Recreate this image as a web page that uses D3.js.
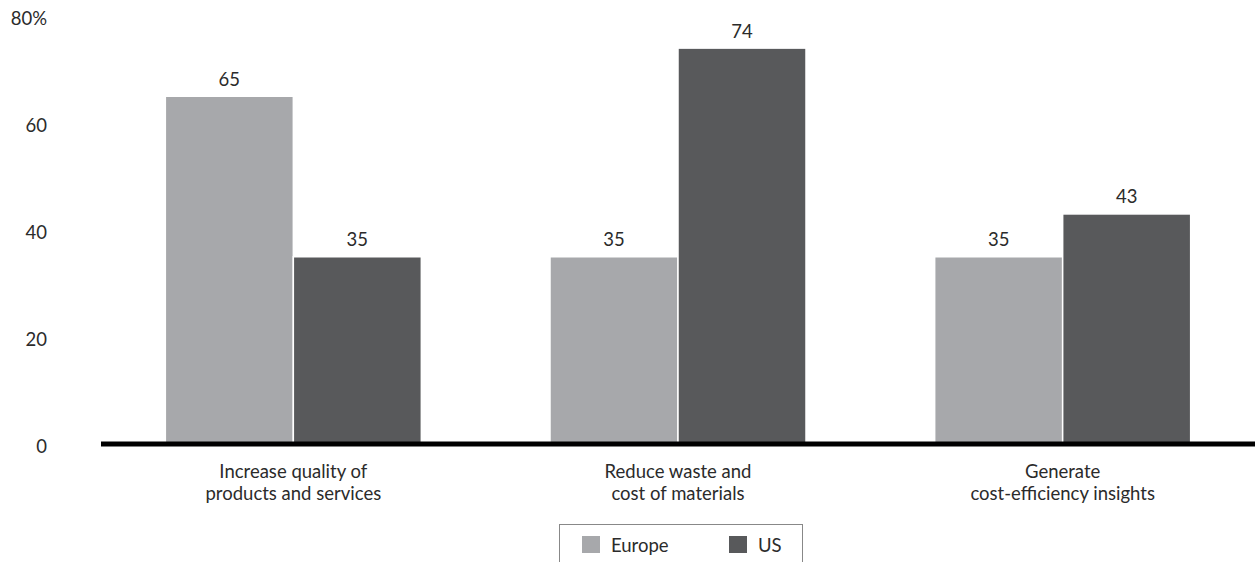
<!DOCTYPE html>
<html>
<head>
<meta charset="utf-8">
<script src="https://cdn.jsdelivr.net/npm/d3@7"></script>
<style>
  body { margin: 0; background: #fff; }
  text { font-family: Lato, "Noto Sans", sans-serif; fill: #2b2b2b; }
</style>
</head>
<body>
<div id="chart"></div>
<script>
// donnees
var categories = [
    ["Increase quality of", "products and services"],
    ["Reduce waste and", "cost of materials"],
    ["Generate", "cost-efficiency insights"]
];
var series = ["Europe", "US"];
var europe = [65, 35, 35];
var us = [35, 74, 43];
var yTicks = [0, 20, 40, 60, 80];
var colors = ["#a7a8ab", "#58595b"];

var width = 1255,
    height = 562,
    fontSize = 18.5;

var svg = d3.select("#chart").append("svg")
    .attr("width", width)
    .attr("height", height);

// echelles
var x0 = d3.scaleBand()
    .domain(d3.range(categories.length))
    .range([101, 1255])
    .padding(0);

var x1 = d3.scaleBand()
    .domain(series)
    .range([0, 256])
    .padding(0);

var y = d3.scaleLinear()
    .domain([0, 80])
    .range([444, 16]);

// axe y (texte seulement)
svg.selectAll(".ytick")
    .data(yTicks)
    .enter()
    .append("text")
    .attr("class", "ytick")
    .attr("x", 47)
    .attr("y", function(d) { return y(d) + 3; })
    .attr("dy", "0.35em")
    .attr("text-anchor", "end")
    .attr("font-size", fontSize)
    .text(function(d, i) { return i === yTicks.length - 1 ? d + "%" : d; });

// barres
var groups = svg.selectAll(".group")
    .data(categories)
    .enter()
    .append("g")
    .attr("class", "group")
    .attr("transform", function(d, i) {
        return "translate(" + (x0(i) + x0.bandwidth() / 2 - 128) + ",0)";
    });

groups.selectAll("rect")
    .data(function(d, i) {
        return [{ s: "Europe", v: europe[i] }, { s: "US", v: us[i] }];
    })
    .enter()
    .append("rect")
    .attr("x", function(d) { return x1(d.s); })
    .attr("y", function(d) { return y(d.v); })
    .attr("width", x1.bandwidth())
    .attr("height", function(d) { return y(0) - y(d.v); })
    .attr("fill", function(d) { return colors[series.indexOf(d.s)]; })
    .attr("stroke", "#fff")
    .attr("stroke-width", 1.5);

groups.selectAll(".val")
    .data(function(d, i) {
        return [{ s: "Europe", v: europe[i] }, { s: "US", v: us[i] }];
    })
    .enter()
    .append("text")
    .attr("class", "val")
    .attr("x", function(d) { return x1(d.s) + x1.bandwidth() / 2; })
    .attr("y", function(d) { return y(d.v) - 10.5; })
    .attr("text-anchor", "middle")
    .attr("font-size", fontSize)
    .text(function(d) { return d.v; });

// ligne de base
svg.append("line")
    .attr("x1", 101)
    .attr("x2", 1255)
    .attr("y1", y(0))
    .attr("y2", y(0))
    .attr("stroke", "#000")
    .attr("stroke-width", 5);

// etiquettes des categories
var labels = svg.selectAll(".cat")
    .data(categories)
    .enter()
    .append("text")
    .attr("class", "cat")
    .attr("text-anchor", "middle")
    .attr("font-size", fontSize);

labels.selectAll("tspan")
    .data(function(d, i) { return d.map(function(t) { return { t: t, i: i }; }); })
    .enter()
    .append("tspan")
    .attr("x", function(d) { return x0(d.i) + x0.bandwidth() / 2; })
    .attr("y", function(d, j) { return 477.5 + j * 22.5; })
    .text(function(d) { return d.t; });

// legende
var legend = svg.append("g");
legend.append("rect")
    .attr("x", 559.5)
    .attr("y", 524.5)
    .attr("width", 243)
    .attr("height", 60)
    .attr("fill", "#fff")
    .attr("stroke", "#888")
    .attr("stroke-width", 1);

var legendX = [582, 729];
series.forEach(function(s, i) {
    legend.append("rect")
        .attr("x", legendX[i])
        .attr("y", 536)
        .attr("width", 18)
        .attr("height", 17)
        .attr("fill", colors[i]);
    legend.append("text")
        .attr("x", legendX[i] + 29)
        .attr("y", 552)
        .attr("font-size", fontSize)
        .text(s);
});
</script>
</body>
</html>
